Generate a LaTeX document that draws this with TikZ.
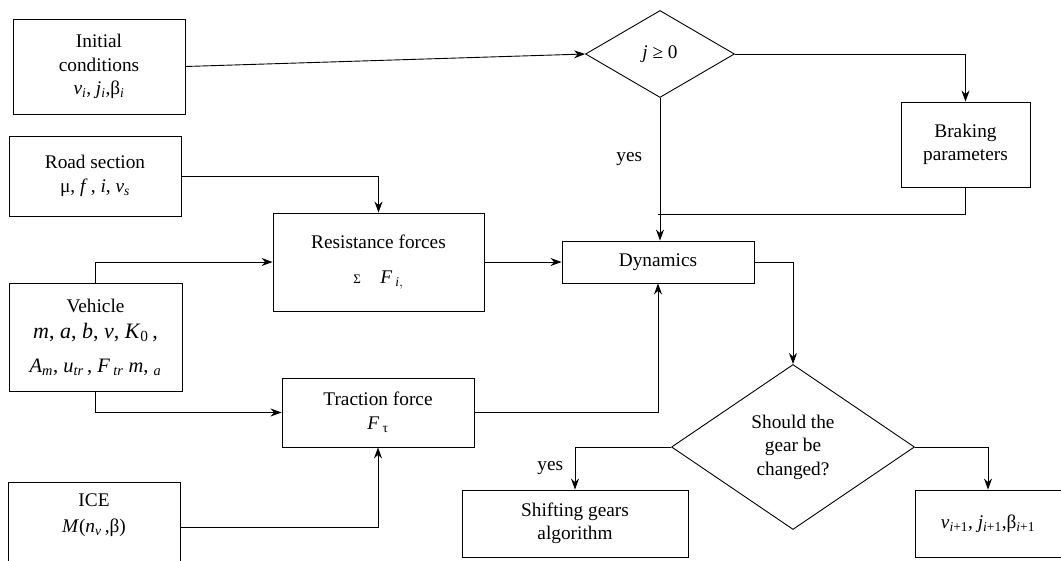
\documentclass[tikz,border=0pt]{standalone}
\usepackage{amsmath}
\usepackage{fontspec}
\setmainfont{Liberation Serif}
\usetikzlibrary{shapes.geometric,arrows.meta}

% italic letter with italic subscript
\newcommand\isub[2]{\textit{#1}$_{\textit{#2}}$}

\tikzset{
  block/.style={draw, rectangle, align=center, inner sep=2pt},
  decision/.style={draw, diamond, align=center, inner sep=0pt},
  flow/.style={-{Stealth[length=11pt,width=8pt]}}
}

\begin{document}
\begin{tikzpicture}[x=1pt, y=-1pt, line width=0.9pt, font=\fontsize{19.3}{23.5}\selectfont]
  \useasboundingbox (0,0) rectangle (1061,560);

  % input blocks on the left
  \node[block, minimum width=172, minimum height=95] (init) at (99,66.5)
       {Initial\\conditions\\\isub{v}{i}, \isub{j}{i},β$_{\textit{i}}$};
  \node[block, minimum width=172, minimum height=80] (road) at (95,176)
       {Road section\\μ, \textit{f}\,, \textit{i}, \isub{v}{s}};
  \node[block, minimum width=173, minimum height=108] (vehicle) at (95.5,337)
       {Vehicle\\[3pt] {\fontsize{22}{24}\selectfont\textit{m}, \textit{a}, \textit{b}, \textit{v}, \isub{K}{\textup{0}}\,,}\\[10pt]
        {\fontsize{20.5}{23}\selectfont\isub{A}{m}, \isub{u}{tr}\,, \textit{F}\,$_{\textit{tr}}$ \textit{m}, $_{\textit{a}}$}};
  \node[block, minimum width=172, minimum height=90] (ice) at (94,527)
       {ICE\\[2pt]\textit{M}(\isub{n}{v}\,,β)\\[4pt]};

  % forces
  \node[block, minimum width=211, minimum height=98] (resist) at (378.5,262)
       {Resistance forces\\[12pt] {\fontsize{13}{15}\selectfont Σ}\quad\textit{F}\,$_{\textit{i},}$};
  \node[block, minimum width=192, minimum height=69] (traction) at (378,412.5)
       {Traction force\\\textit{F}\,$_{\text{τ}}$};

  % main loop
  \node[block, minimum width=192, minimum height=42] (dyn) at (658,262) {Dynamics};
  \node[decision, minimum width=149, minimum height=87] (jdec) at (660,54) {\textit{j} ≥ 0};
  \node[block, minimum width=129, minimum height=85] (brake) at (965.5,144.5)
       {Braking\\parameters};
  \node[decision, minimum width=243, minimum height=165] (gdec) at (793,447)
       {Should the\\gear be\\changed?};
  \node[block, minimum width=226, minimum height=67] (shift) at (575,523.5)
       {Shifting gears\\algorithm};
  \node[block, minimum width=146, minimum height=67] (next) at (988,523.5)
       {\isub{v}{i\textup{+1}}, \isub{j}{i\textup{+1}},β$_{\textit{i}\text{+1}}$};

  \coordinate (merge) at (658,214);

  % connectors
  \draw[flow] (init.east) -- (jdec.west);
  \draw[flow] (jdec.east) -| (brake.north);
  \draw[flow] (jdec.south) -- node[pos=0.43, left=14pt] {yes} (jdec.south |- dyn.north);
  \draw (brake.south) |- (merge);

  \draw[flow] (road.east) -| (resist.north);
  \draw[flow] (vehicle.north) |- (resist.west);
  \draw[flow] (vehicle.south) |- (traction.west);
  \draw[flow] (ice.east) -| (traction.south);

  \draw[flow] (resist.east) -- (dyn.west);
  \draw[flow] (traction.east) -| (dyn.south);
  \draw[flow] (dyn.east) -| (gdec.north);

  \draw[flow] (gdec.west) -| node[pos=0.75, left=8pt] {yes} (shift.north);
  \draw[flow] (gdec.east) -| (next.north);

\end{tikzpicture}
\end{document}
